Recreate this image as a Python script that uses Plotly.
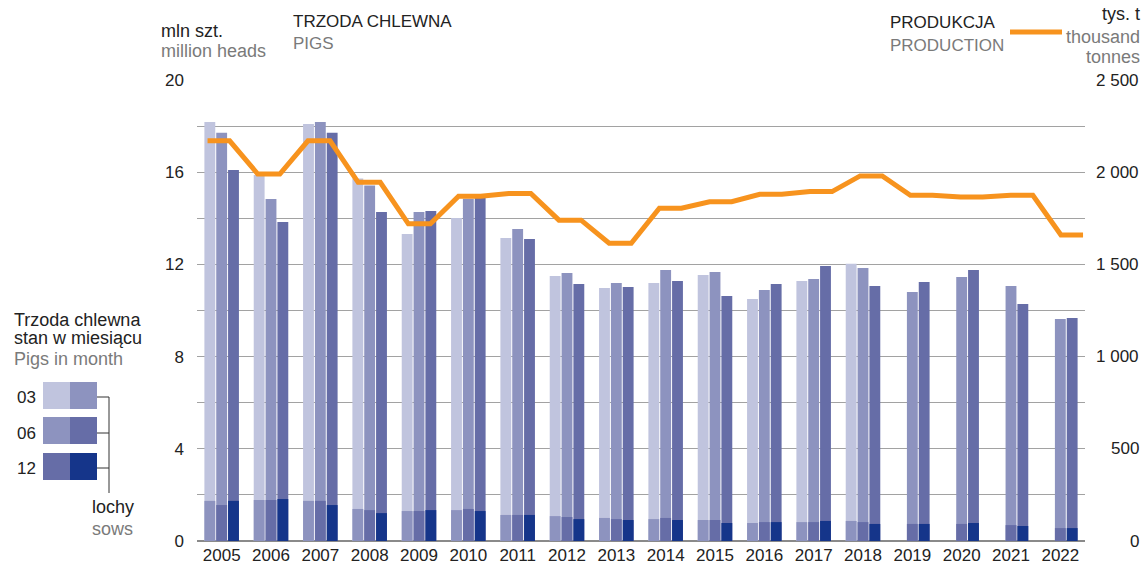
import plotly.graph_objects as go

# ---------------- data ----------------
years = [str(y) for y in range(2005, 2023)]

# pigs (million heads), stock in March / June / December; None = not shown
pigs_march = [18.18, 15.88, 18.09, 15.73, 13.32, 14.01, 13.15, 11.50, 10.98, 11.19,
              11.54, 10.50, 11.28, 12.03, None, None, None, None]
sows_march = [1.74, 1.78, 1.74, 1.39, 1.30, 1.34, 1.13, 1.08, 1.00, 0.95,
              0.91, 0.78, 0.82, 0.87, None, None, None, None]
pigs_june = [17.71, 14.84, 18.18, 15.42, 14.27, 14.85, 13.54, 11.63, 11.19, 11.76,
             11.67, 10.89, 11.37, 11.84, 10.80, 11.45, 11.06, 9.63]
sows_june = [1.56, 1.78, 1.74, 1.34, 1.30, 1.39, 1.13, 1.04, 0.95, 1.00,
             0.91, 0.82, 0.82, 0.82, 0.74, 0.74, 0.69, 0.56]
pigs_dec = [16.10, 13.84, 17.71, 14.27, 14.32, 14.90, 13.10, 11.15, 11.02, 11.28,
            10.63, 11.15, 11.93, 11.06, 11.24, 11.76, 10.28, 9.67]
sows_dec = [1.74, 1.82, 1.56, 1.21, 1.34, 1.30, 1.13, 0.95, 0.91, 0.91,
            0.78, 0.82, 0.87, 0.74, 0.74, 0.78, 0.65, 0.56]

# production (thousand tonnes)
production = [2170, 1990, 2170, 1945, 1720, 1870, 1885, 1740, 1615, 1805,
              1840, 1880, 1895, 1980, 1875, 1865, 1875, 1660]

left_tick_values = [0, 2, 4, 6, 8, 10, 12, 14, 16, 18, 20]
left_tick_labels = ["0", "", "4", "", "8", "", "12", "", "16", "", "20"]
right_tick_values = [0, 500, 1000, 1500, 2000, 2500]
right_tick_labels = ["0", "500", "1 000", "1 500", "2 000", "2 500"]
legend_months = ["03", "06", "12"]

# ---------------- styling ----------------
W, H = 1146, 567
L, R, T, B = 197, 1085, 80, 541
LIGHT = "#c0c4de"
MED = "#8d93bf"
DARK = "#666da7"
NAVY = "#15358a"
ORANGE = "#f7931e"
GRID = "#a2a2a2"
BLACK = "#222222"
GRAY = "#7a7a7a"
FONT = "Liberation Sans, Arial, sans-serif"


def px(x):
    return (x - L) / (R - L)


def py(y):
    return (B - y) / (B - T)


fig = go.Figure()

specs = [
    (pigs_march, sows_march, LIGHT, MED, -0.35),
    (pigs_june, sows_june, MED, DARK, -0.11),
    (pigs_dec, sows_dec, DARK, NAVY, 0.13),
]
for total, sows, c_total, c_sows, off in specs:
    fig.add_trace(go.Bar(x=years, y=total, width=0.22, offset=off,
                         marker=dict(color=c_total, line=dict(width=0)),
                         showlegend=False, hoverinfo="skip"))
for total, sows, c_total, c_sows, off in specs:
    fig.add_trace(go.Bar(x=years, y=sows, width=0.22, offset=off,
                         marker=dict(color=c_sows, line=dict(width=0)),
                         showlegend=False, hoverinfo="skip"))

line_x, line_y = [], []
for yr, p in zip(years, production):
    line_x += [int(yr) - 0.22, int(yr) + 0.22]
    line_y += [p, p]
fig.add_trace(go.Scatter(x=line_x, y=line_y, xaxis="x2", yaxis="y2", mode="lines",
                         line=dict(color=ORANGE, width=5), showlegend=False,
                         hoverinfo="skip"))

fig.update_layout(
    width=W, height=H,
    margin=dict(l=L, r=W - R, t=T, b=H - B, pad=0, autoexpand=False),
    paper_bgcolor="white", plot_bgcolor="white",
    barmode="overlay",
    font=dict(family=FONT, size=17, color=BLACK),
    xaxis=dict(type="category", categoryorder="array", categoryarray=years,
               range=[-0.5, 17.5], showgrid=False, zeroline=False, showline=False,
               ticks="", tickfont=dict(size=17, color=BLACK), fixedrange=True,
               ticklabelstandoff=2, automargin=False),
    xaxis2=dict(overlaying="x", range=[2004.570, 2022.259], visible=False,
                fixedrange=True, automargin=False),
    yaxis=dict(range=[0, 20], tickmode="array", tickvals=left_tick_values,
               ticktext=left_tick_labels, showgrid=True, gridcolor=GRID,
               gridwidth=1.3, zeroline=True, zerolinecolor="#8a8a8a",
               zerolinewidth=2, ticks="", ticklabelstandoff=12,
               tickfont=dict(size=17, color=BLACK), fixedrange=True,
               automargin=False),
    yaxis2=dict(overlaying="y", side="right", range=[0, 2500], showgrid=False,
                showticklabels=False, zeroline=False, fixedrange=True,
                automargin=False),
)

# right axis labels, right aligned
for v, lab in zip(right_tick_values, right_tick_labels):
    fig.add_annotation(x=px(1141), y=v, xref="paper", yref="y2", text=lab,
                       showarrow=False, xanchor="right", yanchor="middle",
                       font=dict(size=17, color=BLACK))


def txt(s, x, y, color=BLACK, anchor="left", size=18):
    fig.add_annotation(x=px(x), y=py(y), xref="paper", yref="paper", text=s,
                       showarrow=False, xanchor=anchor, yanchor="middle",
                       font=dict(size=size, color=color, family=FONT))


txt("mln szt.", 159, 31)
txt("million heads", 159, 51, GRAY)
txt("TRZODA CHLEWNA", 291, 21, size=17)
txt("PIGS", 291, 43, GRAY, size=17)
txt("PRODUKCJA", 888, 23, size=17)
txt("PRODUCTION", 888, 45, GRAY, size=17)
txt("tys. t", 1142, 14, anchor="right")
txt("thousand", 1142, 37, GRAY, anchor="right")
txt("tonnes", 1142, 57, GRAY, anchor="right")

txt("Trzoda chlewna", 12, 320)
txt("stan w miesiącu", 12, 338)
txt("Pigs in month", 12, 359, GRAY)
txt("lochy", 90, 507)
txt("sows", 90, 529, GRAY)

# orange legend line
fig.add_shape(type="line", xref="paper", yref="paper", x0=px(1010), x1=px(1062),
              y0=py(32), y1=py(32), line=dict(color=ORANGE, width=5))

# month legend swatches
rows = [(382, 409, 397), (417, 444, 433), (453, 480, 468)]
row_colors = [(LIGHT, MED), (MED, DARK), (DARK, NAVY)]
for (y0, y1, yc), (ca, cb), lab in zip(rows, row_colors, legend_months):
    fig.add_shape(type="rect", xref="paper", yref="paper", x0=px(43), x1=px(70),
                  y0=py(y1), y1=py(y0), fillcolor=ca, line=dict(width=0))
    fig.add_shape(type="rect", xref="paper", yref="paper", x0=px(70), x1=px(97),
                  y0=py(y1), y1=py(y0), fillcolor=cb, line=dict(width=0))
    fig.add_shape(type="line", xref="paper", yref="paper", x0=px(97), x1=px(109),
                  y0=py(yc), y1=py(yc), line=dict(color="#333333", width=1))
    txt(lab, 26, yc, anchor="center", size=17)
fig.add_shape(type="line", xref="paper", yref="paper", x0=px(109), x1=px(109),
              y0=py(397), y1=py(493), line=dict(color="#333333", width=1))

fig.write_html("out.html",
               config={"displayModeBar": False},
               post_script="document.body.style.margin='0px';")
